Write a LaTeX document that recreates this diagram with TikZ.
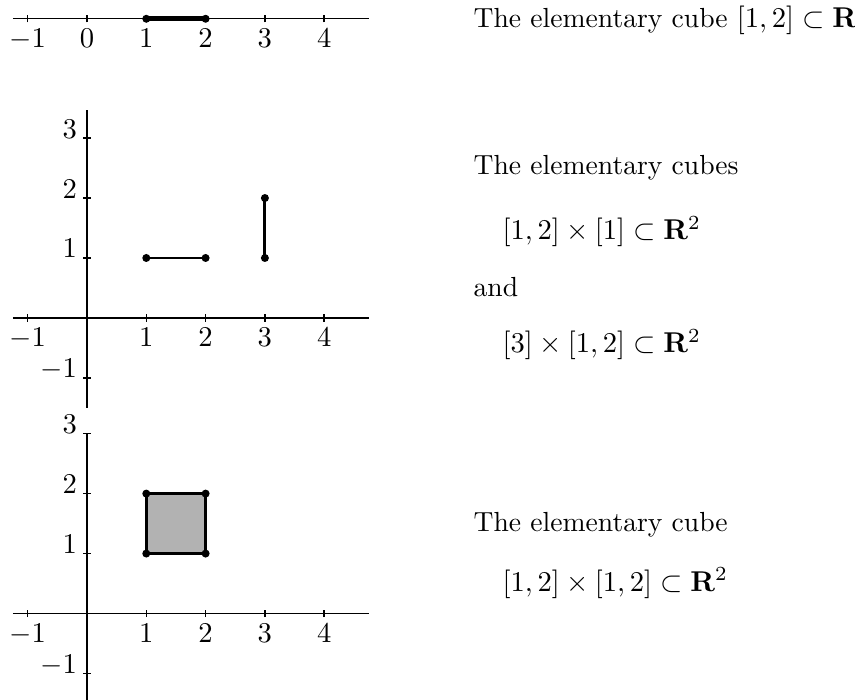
\documentclass[tikz,border=0pt]{standalone}
\usepackage{amsmath,amssymb}
\usepackage{tikz}
\usetikzlibrary{positioning}

\begin{document}
\begin{tikzpicture}[
    x=0.728cm, y=0.736cm,
    axis/.style={line width=0.5pt},
    dot/.style={circle, fill=black, inner sep=0pt, minimum size=2.8pt},
    seg/.style={line width=1pt},
    cell/.style={draw, line width=1.2pt, fill=gray!60},
    ylbl/.style={anchor=base east},
    lbl/.style={anchor=base west, inner sep=0pt, font=\fontsize{9.65pt}{11pt}\selectfont}
]
    \useasboundingbox (-1.467,-1.433) rectangle (12.951,10.233);

    % One-dimensional cube on the real line
    \begin{scope}[shift={(0,9.92)}]
        \draw[axis] (-1.25,0) -- (4.75,0);
        \foreach \x in {-1,...,4} {
            \draw[axis] (\x,-0.06) -- (\x,0.06);
            \node[below] (ta\x) at (\x,0) {$\x$};
        }
        \node[dot] (a1) at (1,0) {};
        \node[dot] (a2) at (2,0) {};
        \draw[line width=1.6pt] (a1.center) -- (a2.center);
    \end{scope}

    % Two degenerate cubes in the plane
    \begin{scope}[shift={(0,4.93)}]
        \draw[axis] (-1.25,0) -- (4.75,0);
        \draw[axis] (0,-1.5) -- (0,3.47);
        \foreach \x in {-1,1,2,3,4} {
            \draw[axis] (\x,-0.06) -- (\x,0.06);
            \node[below] (tb\x) at (\x,0) {$\x$};
        }
        \foreach \y in {-1,1,2,3} {
            \draw[axis] (-0.06,\y) -- (0.06,\y);
            \node[ylbl] (sb\y) at (0,\y) {$\y$};
        }
        \node[dot] (b1) at (1,1) {};
        \node[dot] (b2) at (2,1) {};
        \node[dot] (b3) at (3,1) {};
        \node[dot] (b4) at (3,2) {};
        \draw[seg] (b1.center) -- (b2.center);
        \draw[seg] (b3.center) -- (b4.center);
    \end{scope}

    % Full square cube
    \begin{scope}
        \draw[axis] (-1.25,0) -- (4.75,0);
        \draw[axis] (0,-1.45) -- (0,3);
        \foreach \x in {-1,1,2,3,4} {
            \draw[axis] (\x,-0.06) -- (\x,0.06);
            \node[below] (tc\x) at (\x,0) {$\x$};
        }
        \foreach \y in {-1,1,2,3} {
            \draw[axis] (-0.06,\y) -- (0.06,\y);
            \node[ylbl] (sc\y) at (0,\y) {$\y$};
        }
        \coordinate (q1) at (1,1);
        \coordinate (q2) at (2,1);
        \coordinate (q3) at (2,2);
        \coordinate (q4) at (1,2);
        \draw[cell] (q1) -- (q2) -- (q3) -- (q4) -- cycle;
        \node[dot] (c1) at (q1) {};
        \node[dot] (c2) at (q2) {};
        \node[dot] (c3) at (q3) {};
        \node[dot] (c4) at (q4) {};
    \end{scope}

    % Captions
    \node[lbl] (capA) at (6.51,9.78) {The elementary cube $[1,2]\subset\mathbf{R}$};
    \node[lbl] (capB) at (6.51,7.32) {The elementary cubes};
    \node[lbl] (capB1) at (7.0,6.23) {$[1,2]\times[1]\subset\mathbf{R}^2$};
    \node[lbl] (capB2) at (6.51,5.28) {and};
    \node[lbl] (capB3) at (7.0,4.35) {$[3]\times[1,2]\subset\mathbf{R}^2$};
    \node[lbl] (capC) at (6.51,1.37) {The elementary cube};
    \node[lbl] (capC1) at (7.0,0.37) {$[1,2]\times[1,2]\subset\mathbf{R}^2$};
\end{tikzpicture}
\end{document}
